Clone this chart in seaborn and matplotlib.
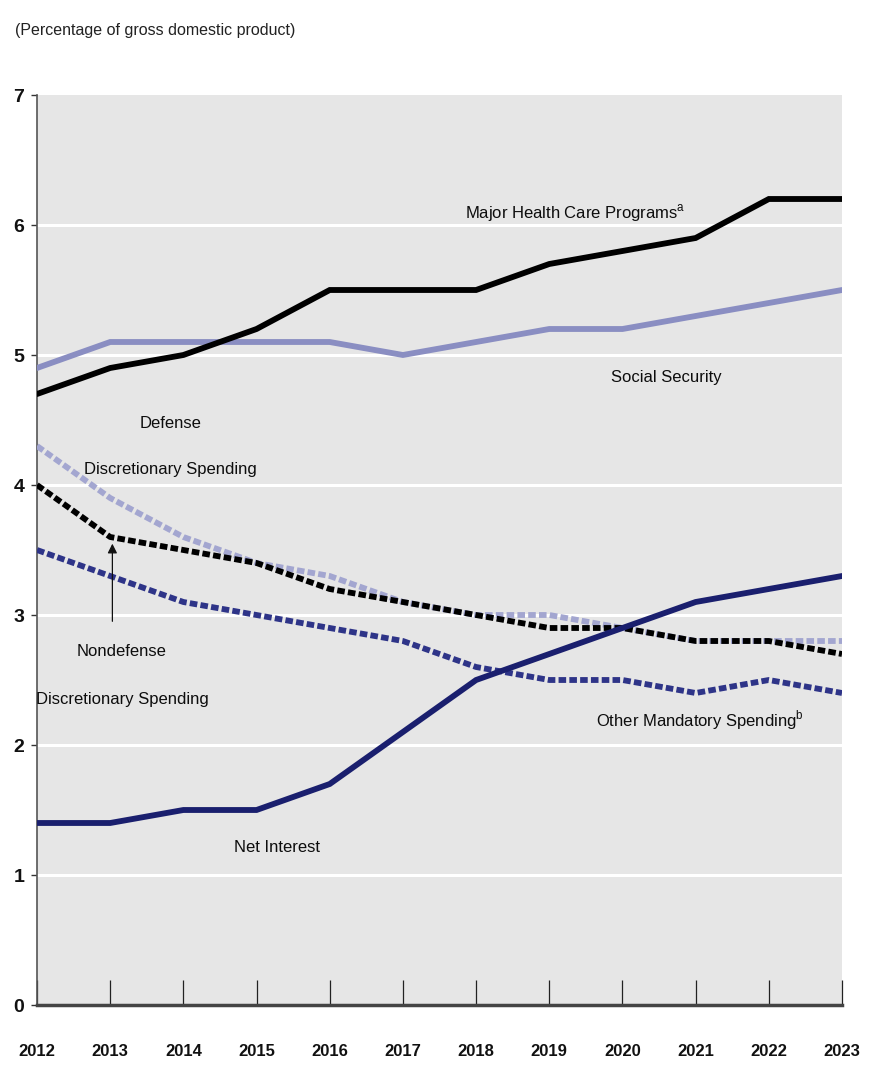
import numpy as np
import pandas as pd
import seaborn as sns
import matplotlib.pyplot as plt

# ----------------------------
# Data (percentage of GDP)
# ----------------------------
years = list(range(2012, 2024))

health = [4.7, 4.9, 5.0, 5.2, 5.5, 5.5, 5.5, 5.7, 5.8, 5.9, 6.2, 6.2]
social_security = [4.9, 5.1, 5.1, 5.1, 5.1, 5.0, 5.1, 5.2, 5.2, 5.3, 5.4, 5.5]
defense = [4.3, 3.9, 3.6, 3.4, 3.3, 3.1, 3.0, 3.0, 2.9, 2.8, 2.8, 2.8]
nondefense = [4.0, 3.6, 3.5, 3.4, 3.2, 3.1, 3.0, 2.9, 2.9, 2.8, 2.8, 2.7]
other_mandatory = [3.5, 3.3, 3.1, 3.0, 2.9, 2.8, 2.6, 2.5, 2.5, 2.4, 2.5, 2.4]
net_interest = [1.4, 1.4, 1.5, 1.5, 1.7, 2.1, 2.5, 2.7, 2.9, 3.1, 3.2, 3.3]

series_names = ["Health", "Social Security", "Defense", "Nondefense",
                "Other Mandatory", "Net Interest"]
series_values = [health, social_security, defense, nondefense,
                 other_mandatory, net_interest]

df = pd.DataFrame({
    "year": years * len(series_names),
    "value": sum(series_values, []),
    "series": np.repeat(series_names, len(years)),
})

palette = {
    "Health": "#000000",
    "Social Security": "#8a8ec2",
    "Defense": "#a3a6d0",
    "Nondefense": "#000000",
    "Other Mandatory": "#2e3488",
    "Net Interest": "#1a1f6e",
}
dash_sq = (1.3, 0.55)
dashes = {
    "Health": "",
    "Social Security": "",
    "Defense": dash_sq,
    "Nondefense": dash_sq,
    "Other Mandatory": dash_sq,
    "Net Interest": "",
}

# ----------------------------
# Plot
# ----------------------------
sns.set_theme(style="white")
plt.rcParams["font.family"] = ["Liberation Sans", "DejaVu Sans"]

fig = plt.figure(figsize=(8.69, 10.65), dpi=100)
ax = fig.add_axes([37 / 869, 60 / 1065, 805 / 869, 910 / 1065])
ax.set_facecolor("#e6e6e6")

# draw lines back to front
order = ["Defense", "Other Mandatory", "Nondefense", "Social Security",
         "Net Interest", "Health"]
for name in order:
    sub = df[df["series"] == name]
    sns.lineplot(data=sub, x="year", y="value", ax=ax, color=palette[name],
                 linewidth=4.2, legend=False, zorder=3)
    line = ax.lines[-1]
    if dashes[name]:
        line.set_dashes(dashes[name])
    line.set_solid_joinstyle("miter")

ax.set_xlim(2012, 2023)
ax.set_ylim(0, 7)
ax.set_xlabel("")
ax.set_ylabel("")

ax.set_yticks(range(0, 8))
ax.set_xticks(years)
for y in range(1, 7):
    ax.axhline(y, color="white", linewidth=2.2, zorder=1)

ax.tick_params(axis="y", direction="out", length=4, width=1, color="#333333",
               pad=5, labelsize=14, left=True)
ax.tick_params(axis="x", direction="in", length=18, width=0.9, color="#222222",
               pad=28, labelsize=12, bottom=True)
for lab in ax.get_xticklabels() + ax.get_yticklabels():
    lab.set_fontweight("bold")
    lab.set_color("#111111")

for side in ["top", "right"]:
    ax.spines[side].set_visible(False)
ax.spines["left"].set_color("#555555")
ax.spines["left"].set_linewidth(1.2)
ax.spines["bottom"].set_color("#444444")
ax.spines["bottom"].set_linewidth(2.5)

# ----------------------------
# Labels
# ----------------------------
txt = dict(fontsize=12, color="#0d0d0d", ha="center", va="center", zorder=5)
ax.text(2019.35, 6.09, "Major Health Care Programs$^{\\mathregular{a}}$", **txt)
ax.text(2020.6, 4.83, "Social Security", **txt)
ax.text(2013.82, 4.47, "Defense", **txt)
ax.text(2013.82, 4.12, "Discretionary Spending", **txt)
ax.text(2013.16, 2.72, "Nondefense", **txt)
ax.text(2013.16, 2.35, "Discretionary Spending", **txt)
ax.text(2021.06, 2.19, "Other Mandatory Spending$^{\\mathregular{b}}$", **txt)
ax.text(2015.28, 1.21, "Net Interest", **txt)

ax.annotate("", xy=(2013.03, 3.57), xytext=(2013.03, 2.93),
            arrowprops=dict(arrowstyle="-|>", color="#111111", lw=0.9,
                            mutation_scale=14), zorder=6)

fig.text(15 / 869, 1 - 30 / 1065, "(Percentage of gross domestic product)",
         fontsize=11.5, color="#222222", ha="left", va="center")

plt.savefig("out.png", dpi=100)
plt.close()
